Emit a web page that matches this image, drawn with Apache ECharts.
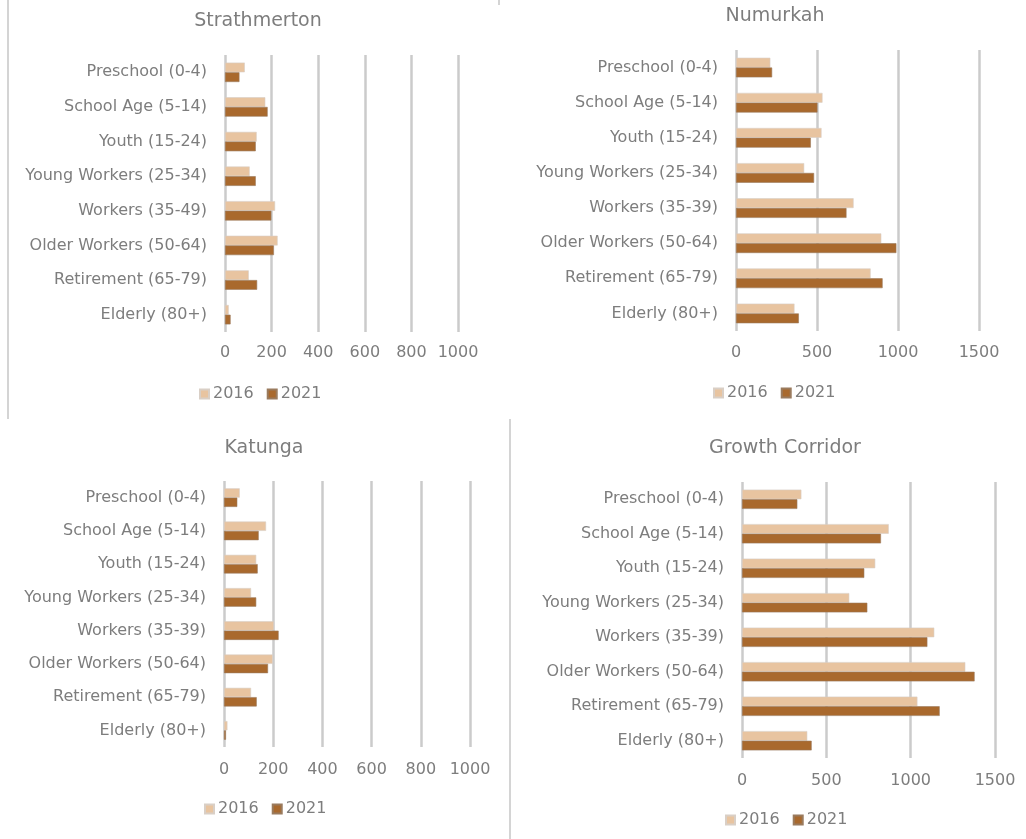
<!DOCTYPE html>
<html>
<head>
<meta charset="utf-8">
<script src="https://cdn.jsdelivr.net/npm/echarts@6/dist/echarts.min.js"></script>
<style>
  html, body { margin: 0; padding: 0; background: #ffffff; }
  #chart { width: 1026px; height: 839px; }
</style>
</head>
<body>
<div id="chart"></div>
<script>
// Age groups shown on every panel (top to bottom)
const categoriesA = ['Preschool (0-4)', 'School Age (5-14)', 'Youth (15-24)', 'Young Workers (25-34)',
  'Workers (35-49)', 'Older Workers (50-64)', 'Retirement (65-79)', 'Elderly (80+)'];
const categoriesB = ['Preschool (0-4)', 'School Age (5-14)', 'Youth (15-24)', 'Young Workers (25-34)',
  'Workers (35-39)', 'Older Workers (50-64)', 'Retirement (65-79)', 'Elderly (80+)'];

const years = ['2016', '2021'];

// Population by age group
const strathmerton2016 = [85, 173, 136, 106, 215, 226, 102, 16];
const strathmerton2021 = [62, 183, 132, 132, 199, 210, 138, 24];

const numurkah2016 = [212, 534, 528, 421, 726, 897, 831, 361];
const numurkah2021 = [223, 503, 462, 482, 682, 990, 905, 388];

const katunga2016 = [64, 171, 131, 110, 203, 198, 110, 14];
const katunga2021 = [54, 141, 137, 131, 222, 179, 133, 8];

const growth2016 = [352, 870, 790, 636, 1140, 1324, 1040, 387];
const growth2021 = [328, 824, 725, 743, 1099, 1379, 1172, 413];

// Value-axis ranges
const smallMax = 1000, smallStep = 200;
const largeMax = 1500, largeStep = 500;

const panels = [
  { title: 'Strathmerton', cats: categoriesA, a: strathmerton2016, b: strathmerton2021, max: smallMax, step: smallStep,
    grid: { left: 225, top: 55, width: 233, height: 277 }, titlePos: [253, 7], legendPos: [194, 381], xMargin: 13 },
  { title: 'Numurkah', cats: categoriesB, a: numurkah2016, b: numurkah2021, max: largeMax, step: largeStep,
    grid: { left: 736, top: 50, width: 243, height: 281 }, titlePos: [770, 2], legendPos: [708, 380], xMargin: 14 },
  { title: 'Katunga', cats: categoriesB, a: katunga2016, b: katunga2021, max: smallMax, step: smallStep,
    grid: { left: 224, top: 481, width: 246, height: 266 }, titlePos: [259, 434], legendPos: [199, 796], xMargin: 15 },
  { title: 'Growth Corridor', cats: categoriesB, a: growth2016, b: growth2021, max: largeMax, step: largeStep,
    grid: { left: 742, top: 482, width: 253, height: 276 }, titlePos: [780, 434], legendPos: [720, 807], xMargin: 15 }
];

const textGray = '#7d7d7d';
const lineGray = '#cbcbcb';
const light = '#E8C4A0';
const dark = '#A9692D';
const font = 'DejaVu Sans';

const option = {
  backgroundColor: '#ffffff',
  animation: false,
  title: [], legend: [], grid: [], xAxis: [], yAxis: [], series: [],
  graphic: [
    { type: 'line', shape: { x1: 8, y1: 0, x2: 8, y2: 419 }, style: { stroke: '#d4d4d4', lineWidth: 2 } },
    { type: 'line', shape: { x1: 499, y1: 0, x2: 499, y2: 5 }, style: { stroke: '#d4d4d4', lineWidth: 2 } },
    { type: 'line', shape: { x1: 510, y1: 419, x2: 510, y2: 839 }, style: { stroke: '#d4d4d4', lineWidth: 2 } }
  ]
};

panels.forEach((p, i) => {
  option.title.push({
    text: p.title, left: p.titlePos[0], top: p.titlePos[1], textAlign: 'center',
    textStyle: { color: textGray, fontFamily: font, fontSize: 19, fontWeight: 'normal' }
  });
  option.legend.push({
    data: years, left: p.legendPos[0], top: p.legendPos[1], orient: 'horizontal',
    itemWidth: 9, itemHeight: 9, itemGap: 13, icon: 'rect', selectedMode: false,
    textStyle: { color: textGray, fontFamily: font, fontSize: 16, padding: [0, 0, 0, -1] }
  });
  option.grid.push(Object.assign({ containLabel: false }, p.grid));
  option.xAxis.push({
    type: 'value', gridIndex: i, min: 0, max: p.max, interval: p.step,
    axisLine: { show: false }, axisTick: { show: false },
    axisLabel: { color: textGray, fontFamily: font, fontSize: 16, margin: p.xMargin, formatter: v => String(v) },
    splitLine: { show: true, lineStyle: { color: lineGray, width: 2.5 } }
  });
  option.yAxis.push({
    type: 'category', gridIndex: i, data: p.cats, inverse: true,
    axisLine: { show: false }, axisTick: { show: false },
    axisLabel: { color: textGray, fontFamily: font, fontSize: 16, margin: 18 }
  });
  [p.a, p.b].forEach((vals, k) => {
    option.series.push({
      name: years[k], type: 'bar', xAxisIndex: i, yAxisIndex: i, data: vals,
      barGap: '0%', barCategoryGap: '44%',
      itemStyle: { color: k === 0 ? light : dark, borderColor: k === 0 ? '#d9cfc6' : '#9a7b5e', borderWidth: 0.6 }
    });
  });
});

const chart = echarts.init(document.getElementById('chart'), null, { renderer: 'canvas' });
chart.setOption(option);
</script>
</body>
</html>
